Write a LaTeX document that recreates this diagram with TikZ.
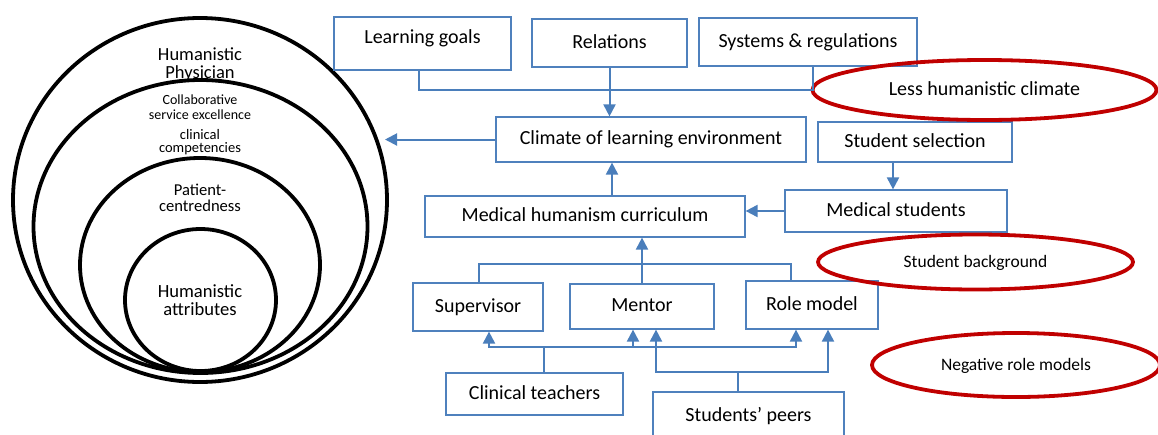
\documentclass[tikz,border=0pt]{standalone}
\usepackage{fontspec}
\setmainfont{Carlito}
\usetikzlibrary{arrows.meta,shapes.geometric,calc}
\definecolor{linkblue}{RGB}{74,126,187}
\definecolor{boxblue}{RGB}{79,129,189}
\definecolor{ringred}{RGB}{192,0,0}
\begin{document}
\begin{tikzpicture}[x=1pt,y=-1pt,
  box/.style={draw=boxblue, line width=1.2pt, inner sep=0pt, text height=14pt, text depth=4pt,
              font=\fontsize{20}{24}\selectfont},
  link/.style={draw=linkblue, line width=2pt},
  flow/.style={link, -{Triangle[width=12pt,length=12pt]}},
  ring/.style={draw=black, line width=3.8pt, ellipse, inner sep=0pt},
  issue/.style={draw=ringred, line width=3.8pt, ellipse, inner sep=0pt, text height=14pt, text depth=4pt},
  lbl/.style={anchor=base, inner sep=0pt}]
\useasboundingbox (0,0) rectangle (1158,434);

% nested rings
\node[ring, minimum width=374pt, minimum height=364pt] (c1) at (200,200) {};
\node[ring, minimum width=334pt, minimum height=293pt] (c2) at (200.5,226.5) {};
\node[ring, minimum width=240pt, minimum height=214pt] (c3) at (200,265) {};
\node[ring, minimum width=151pt, minimum height=142pt] (c4) at (200.5,300) {};

\node[lbl, font=\fontsize{18.5}{20}\selectfont] (hp1) at (200,60) {Humanistic};
\node[lbl, font=\fontsize{18.5}{20}\selectfont] (hp2) at (200,78) {Physician};
\node[lbl, font=\fontsize{14}{16}\selectfont] (cs1) at (200,104) {Collaborative};
\node[lbl, font=\fontsize{14}{16}\selectfont] (cs2) at (200,119) {service excellence};
\node[lbl, font=\fontsize{14.5}{16}\selectfont] (cc1) at (200,139) {clinical};
\node[lbl, font=\fontsize{14.5}{16}\selectfont] (cc2) at (200,152) {competencies};
\node[lbl, font=\fontsize{16.6}{18}\selectfont] (pc1) at (200,195) {Patient-};
\node[lbl, font=\fontsize{16.6}{18}\selectfont] (pc2) at (200,211) {centredness};
\node[lbl, font=\fontsize{18.6}{20}\selectfont] (ha1) at (200,297) {Humanistic};
\node[lbl, font=\fontsize{18.6}{20}\selectfont] (ha2) at (200,315) {attributes};

% boxes
\node[box, minimum width=177pt, minimum height=53pt, text depth=15pt] (lg) at (422.5,43.5) {Learning goals};
\node[box, minimum width=155pt, minimum height=48pt] (rel) at (609.5,43) {Relations};
\node[box, minimum width=218pt, minimum height=48pt] (sys) at (808,42) {Systems \& regulations};
\node[box, minimum width=310pt, minimum height=45pt] (clim) at (651,139.5) {Climate of learning environment};
\node[box, minimum width=194pt, minimum height=40pt] (ss) at (915,142) {Student selection};
\node[box, minimum width=222pt, minimum height=42pt] (ms) at (896,211) {Medical students};
\node[box, minimum width=320pt, minimum height=41pt] (mhc) at (585,216.5) {Medical humanism curriculum};
\node[box, minimum width=130pt, minimum height=48pt] (sup) at (478,307) {Supervisor};
\node[box, minimum width=144pt, minimum height=45pt] (men) at (642,306.5) {Mentor};
\node[box, minimum width=132pt, minimum height=48pt] (rm) at (812,305) {Role model};
\node[box, minimum width=177pt, minimum height=42pt] (ct) at (534.5,394) {Clinical teachers};
\node[box, minimum width=191pt, minimum height=48pt] (sp) at (748.5,416) {Students’ peers};

% red issue ellipses
\node[issue, minimum width=344pt, minimum height=60pt, font=\fontsize{20}{24}\selectfont] (lhc) at (984.5,90) {Less humanistic climate};
\node[issue, minimum width=315pt, minimum height=55pt, font=\fontsize{17.5}{20}\selectfont] (sb) at (975.5,262) {Student background};
\node[issue, minimum width=288pt, minimum height=64pt, font=\fontsize{17.5}{20}\selectfont] (nrm) at (1016,365) {Negative role models};

% top inputs to the climate
\draw[link] ($(lg.south)+(-3.5,0)$) |- ($(sys.south)+(5,23)$) -- ($(sys.south)+(5,0)$);
\draw[flow] (rel.south) -- (rel.south |- clim.north);

% climate acts on the rings
\coordinate (ctip) at (385,139.5);
\draw[flow] (clim.west) -- (ctip);

% curriculum and students
\coordinate (mup) at ($(mhc.north)+(27,0)$);
\draw[flow] (mup) -- (mup |- clim.south);
\coordinate (ssd) at ($(ss.south)+(-22,0)$);
\draw[flow] (ssd) -- (ssd |- ms.north);
\draw[flow] (ms.west) -- (ms.west -| mhc.east);

% supervisor / mentor / role model
\draw[flow] (men.north) -- (men.north |- mhc.south);
\draw[link] ($(sup.north)+(1,0)$) |- ($(rm.north)+(-21,-16)$) -- ($(rm.north)+(-21,0)$);

% clinical teachers
\coordinate (ctj) at ($(ct.north)+(9.5,-25)$);
\draw[link] ($(ct.north)+(9.5,0)$) -- (ctj);
\draw[flow] (ctj) -| ($(sup.south)+(11,0)$);
\draw[flow] (ctj) -| ($(rm.south)+(-16,0)$);
\coordinate (cmen) at ($(men.south)+(-9,0)$);
\draw[flow] (cmen |- ctj) -- (cmen);

% students' peers
\coordinate (spj) at ($(sp.north)+(-10.5,-19)$);
\draw[link] ($(sp.north)+(-10.5,0)$) -- (spj);
\draw[flow] (spj) -| ($(men.south)+(14,0)$);
\draw[flow] (spj) -| ($(rm.south)+(16,0)$);
\end{tikzpicture}
\end{document}
